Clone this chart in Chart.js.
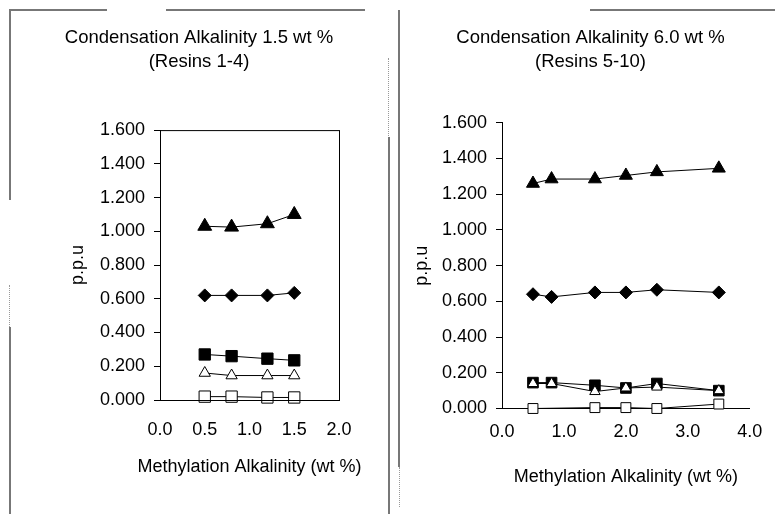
<!DOCTYPE html>
<html>
<head>
<meta charset="utf-8">
<script src="https://cdn.jsdelivr.net/npm/chart.js@4"></script>
<style>
  body { margin: 0; background: #fff; }
  .wrap { position: absolute; top: 0; height: 514px; }
  .ln { position: absolute; }
  .h { height: 0; border-top: 2px solid #777; }
  .v { width: 0; border-left: 2px solid #777; }
  .vd { width: 0; border-left: 1px dotted #999; }
</style>
</head>
<body>
<div class="wrap" style="left:0;width:385px"><canvas id="left"></canvas></div>
<div class="wrap" style="left:385px;width:390px"><canvas id="right"></canvas></div>

<!-- frame lines from the scanned page -->
<div class="ln h" style="left:9px;top:9px;width:98px"></div>
<div class="ln h" style="left:166px;top:9px;width:199px"></div>
<div class="ln h" style="left:590px;top:9px;width:185px"></div>
<div class="ln v" style="left:9px;top:9px;height:191px"></div>
<div class="ln vd" style="left:9px;top:285px;height:42px"></div>
<div class="ln v" style="left:9px;top:327px;height:187px"></div>
<div class="ln vd" style="left:388px;top:58px;height:78px"></div>
<div class="ln v" style="left:388px;top:137px;height:377px"></div>
<div class="ln v" style="left:398px;top:10px;height:457px"></div>
<div class="ln vd" style="left:399px;top:467px;height:40px"></div>

<script>
// left panel: condensation alkalinity 1.5 wt %
const leftX = [0.5, 0.8, 1.2, 1.5];
const leftFilledTri = [1.03, 1.025, 1.045, 1.10];
const leftDiamond = [0.62, 0.62, 0.62, 0.635];
const leftFilledSq = [0.27, 0.26, 0.245, 0.235];
const leftOpenTri = [0.16, 0.145, 0.145, 0.145];
const leftOpenSq = [0.02, 0.02, 0.015, 0.015];

// right panel: condensation alkalinity 6.0 wt %
const rightX = [0.5, 0.8, 1.5, 2.0, 2.5, 3.5];
const rightFilledTri = [1.26, 1.285, 1.285, 1.305, 1.325, 1.345];
const rightDiamond = [0.64, 0.625, 0.65, 0.65, 0.665, 0.65];
const rightFilledSq = [0.145, 0.145, 0.13, 0.115, 0.14, 0.10];
const rightOpenTri = [0.14, 0.14, 0.095, 0.115, 0.12, 0.10];
const rightOpenSqX = [0.5, 1.5, 2.0, 2.5, 3.5];
const rightOpenSq = [0.0, 0.005, 0.005, 0.0, 0.025];

const yTicks = ['0.000', '0.200', '0.400', '0.600', '0.800', '1.000', '1.200', '1.400', '1.600'];
const xTitle = 'Methylation Alkalinity (wt %)';

const FONT = "'Liberation Sans', Arial, sans-serif";
Chart.defaults.font.family = FONT;
Chart.defaults.font.size = 18;
Chart.defaults.color = '#000';

function pts(xs, ys) {
  return xs.map((x, i) => ({ x: x, y: ys[i] }));
}

function series(xs, ys, style, filled, radius, order) {
  return {
    data: pts(xs, ys),
    borderColor: '#000',
    borderWidth: 1,
    pointStyle: style,
    pointRadius: radius,
    pointBackgroundColor: filled ? '#000' : '#fff',
    pointBorderColor: '#000',
    pointBorderWidth: 1,
    clip: false,
    order: order
  };
}

// box round the plot area (left panel) + x axis caption, which may be wider than the plot
const extras = {
  id: 'extras',
  afterDatasetsDraw(chart, args, opts) {
    const a = chart.chartArea;
    const ctx = chart.ctx;
    ctx.save();
    if (opts.box) {
      ctx.strokeStyle = '#000';
      ctx.lineWidth = 1;
      ctx.strokeRect(a.left + 0.5, a.top + 0.5, a.right - a.left, a.bottom - a.top);
    }
    ctx.fillStyle = '#000';
    ctx.font = '18px ' + FONT;
    ctx.textAlign = 'center';
    ctx.textBaseline = 'middle';
    ctx.fillText(opts.caption, (a.left + a.right) / 2, opts.captionY);
    ctx.restore();
  }
};

function makeChart(id, cfg) {
  return new Chart(document.getElementById(id), {
    type: 'line',
    data: { datasets: cfg.datasets },
    plugins: [extras],
    options: {
      responsive: true,
      maintainAspectRatio: false,
      animation: false,
      layout: { padding: { left: cfg.padL, right: cfg.padR, top: 0, bottom: 0 } },
      plugins: {
        legend: { display: false },
        tooltip: { enabled: false },
        extras: { box: cfg.box, caption: xTitle, captionY: cfg.captionY },
        title: {
          display: true,
          text: cfg.title,
          font: { size: 18.5, weight: 'normal', lineHeight: 1.3 },
          color: '#000',
          padding: { top: 26, bottom: cfg.titleBottom }
        }
      },
      scales: {
        x: {
          type: 'linear',
          min: 0,
          max: cfg.xMax,
          afterFit: s => { s.height = cfg.xHeight; },
          ticks: {
            stepSize: cfg.xStep,
            padding: cfg.xTickPad,
            maxRotation: 0,
            callback: v => v.toFixed(1)
          },
          grid: { drawOnChartArea: false, drawTicks: false },
          border: { color: '#000', width: 1 }
        },
        y: {
          min: 0,
          max: 1.6,
          afterFit: s => { s.width = cfg.yWidth; },
          ticks: {
            stepSize: 0.2,
            padding: 9,
            autoSkip: false,
            callback: (v, i) => yTicks[i]
          },
          grid: { drawOnChartArea: false, tickLength: 6, color: '#000' },
          border: { color: '#000', width: 1 },
          title: {
            display: true,
            text: 'p.p.u',
            padding: { top: cfg.yTitlePad, bottom: 0 }
          }
        }
      }
    }
  });
}

makeChart('left', {
  title: ['Condensation Alkalinity 1.5 wt %', '(Resins 1-4)'],
  box: true,
  padL: 59, padR: 46,
  titleBottom: 56,
  xMax: 2, xStep: 0.5,
  xHeight: 114, xTickPad: 19,
  captionY: 467,
  yWidth: 101, yTitlePad: 8,
  datasets: [
    series(leftX, leftFilledTri, 'triangle', true, 8, 1),
    series(leftX, leftDiamond, 'rectRot', true, 6.5, 1),
    series(leftX, leftOpenTri, 'triangle', false, 6.5, 1),
    series(leftX, leftFilledSq, 'rect', true, 8, 2),
    series(leftX, leftOpenSq, 'rect', false, 8, 1)
  ]
});

makeChart('right', {
  title: ['Condensation Alkalinity 6.0 wt %', '(Resins 5-10)'],
  box: false,
  padL: 43, padR: 22,
  titleBottom: 48.7,
  xMax: 4, xStep: 1,
  xHeight: 105.5, xTickPad: 12.7,
  captionY: 477,
  yWidth: 74, yTitlePad: -16.8,
  datasets: [
    series(rightX, rightFilledTri, 'triangle', true, 7.5, 1),
    series(rightX, rightDiamond, 'rectRot', true, 6.5, 1),
    series(rightX, rightOpenTri, 'triangle', false, 6, 1),
    series(rightX, rightFilledSq, 'rect', true, 7.5, 2),
    series(rightOpenSqX, rightOpenSq, 'rect', false, 7, 1)
  ]
});
</script>
</body>
</html>
